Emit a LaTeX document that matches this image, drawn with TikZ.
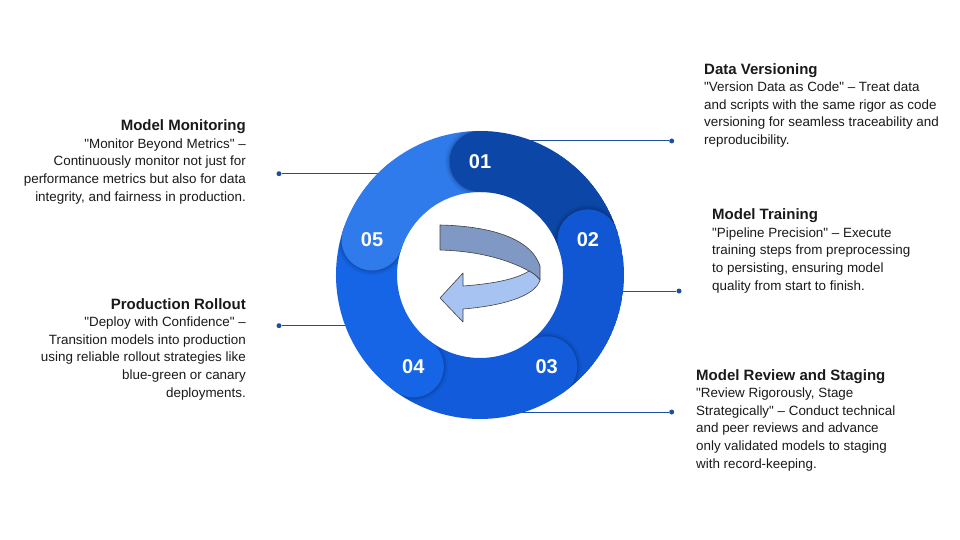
\documentclass[tikz,border=0pt]{standalone}
\usepackage{fontspec}
\setmainfont{Liberation Sans}[Ligatures=TeXOff]
\usetikzlibrary{calc}
\definecolor{segA}{HTML}{0C46A6}
\definecolor{segB}{HTML}{1157D3}
\definecolor{segC}{HTML}{125CDB}
\definecolor{segD}{HTML}{1565E6}
\definecolor{segE}{HTML}{2F7BEB}
\definecolor{linec}{HTML}{1F4FA0}
\definecolor{arrowdark}{HTML}{7F98C4}
\definecolor{arrowlight}{HTML}{A6C3F2}
\definecolor{txt}{HTML}{1A1A1A}
\begin{document}
\begin{tikzpicture}[x=1pt,y=1pt,
  seg/.style={line width=61pt},
  num/.style={text=white, font=\fontsize{20}{24}\selectfont\bfseries, inner sep=0pt},
  dotn/.style={circle, fill=linec, inner sep=0pt, minimum size=5pt},
  conn/.style={draw=linec, line width=1pt},
  lblock/.style={anchor=base west, inner sep=0pt, align=left, text=txt, font=\fontsize{13.4}{17.6}\selectfont},
  rblock/.style={anchor=base east, inner sep=0pt, align=right, text=txt, font=\fontsize{13.4}{17.6}\selectfont},
  arrowline/.style={draw=black!75, line width=0.6pt, line join=round}
]
\newcommand{\ttl}[1]{{\fontsize{15}{17.6}\selectfont\bfseries #1}}
\newcommand{\capshadow}[1]{%
  \fill[black, opacity=0.05] (C) ++(#1:113.5) circle[radius=35];
  \fill[black, opacity=0.07] (C) ++(#1:113.5) circle[radius=33];
  \fill[black, opacity=0.09] (C) ++(#1:113.5) circle[radius=31.5];}
\fill[white] (0,0) rectangle (960,-540);
\useasboundingbox (0,0) rectangle (960,-540);
\coordinate (C) at (480,-275);

% connectors
\node[dotn] (d1) at (671.7,-141) {};
\coordinate (r1) at (530,-141);
\draw[conn] (d1) -- (r1);
\node[dotn] (d2) at (679,-291) {};
\coordinate (r2) at (615,-291);
\draw[conn] (d2) -- (r2);
\node[dotn] (d3) at (671.7,-412) {};
\coordinate (r3) at (515,-412);
\draw[conn] (d3) -- (r3);
\node[dotn] (d4) at (279,-173.7) {};
\coordinate (r4) at (385,-173.7);
\draw[conn] (d4) -- (r4);
\node[dotn] (d5) at (279,-325.7) {};
\coordinate (r5) at (355,-325.7);
\draw[conn] (d5) -- (r5);

% ring
\begin{scope}[even odd rule]
\clip (C) circle[radius=144.2] (C) circle[radius=82.8];
\draw[seg, segE, line cap=round] (C) ++(162:113.5) arc[start angle=162, end angle=90, radius=113.5];
\capshadow{90}
\draw[seg, segA, line cap=round] (C) ++(90:113.5) arc[start angle=90, end angle=18, radius=113.5];
\capshadow{18}
\draw[seg, segB, line cap=round] (C) ++(18:113.5) arc[start angle=18, end angle=-54, radius=113.5];
\capshadow{-54}
\draw[seg, segC, line cap=round] (C) ++(-54:113.5) arc[start angle=-54, end angle=-126, radius=113.5];
\capshadow{-126}
\draw[seg, segD, line cap=round] (C) ++(-126:113.5) arc[start angle=-126, end angle=-198, radius=113.5];
\capshadow{162}
\draw[seg, segE, line cap=round] (C) ++(162:113.5) arc[start angle=162, end angle=130, radius=113.5];
\end{scope}

% numbers
\node[num] (n1) at ($(C)+(90:113.5)$) {01};
\node[num] (n2) at ($(C)+(18:113.5)$) {02};
\node[num] (n3) at ($(C)+(-54:113.5)$) {03};
\node[num] (n4) at ($(C)+(-126:113.5)$) {04};
\node[num] (n5) at ($(C)+(162:113.5)$) {05};

% centre arrow
\fill[arrowdark] (440,-225) .. controls (485,-226) and (530,-236) .. (540,-266)
  -- (540,-280) .. controls (537,-276) and (533,-273) .. (529,-271)
  .. controls (505,-258) and (475,-251) .. (440,-250) -- cycle;
\draw[arrowline] (440,-225) .. controls (485,-226) and (530,-236) .. (540,-266)
  -- (540,-280) .. controls (537,-276) and (533,-273) .. (529,-271)
  .. controls (505,-258) and (475,-251) .. (440,-250) -- cycle;
\fill[arrowlight] (529,-271) .. controls (515,-280) and (490,-284) .. (463,-286)
  -- (463,-273) -- (440,-298) -- (463,-322) -- (463,-309)
  .. controls (500,-306) and (535,-297) .. (540,-280)
  .. controls (537,-276) and (533,-273) .. (529,-271) -- cycle;
\draw[arrowline] (529,-271) .. controls (515,-280) and (490,-284) .. (463,-286)
  -- (463,-273) -- (440,-298) -- (463,-322) -- (463,-309)
  .. controls (500,-306) and (535,-297) .. (540,-280)
  .. controls (537,-276) and (533,-273) .. (529,-271) -- cycle;

% text blocks (anchored at the baseline of their last line)
\node[lblock] (tDV) at (704,-144.5) {\ttl{Data Versioning}\\
"Version Data as Code" – Treat data\\
and scripts with the same rigor as code\\
versioning for seamless traceability and\\
reproducibility.};
\node[lblock] (tMT) at (712,-290) {\ttl{Model Training}\\
"Pipeline Precision" – Execute\\
training steps from preprocessing\\
to persisting, ensuring model\\
quality from start to finish.};
\node[lblock] (tMR) at (696,-468) {\ttl{Model Review and Staging}\\
"Review Rigorously, Stage\\
Strategically" – Conduct technical\\
and peer reviews and advance\\
only validated models to staging\\
with record-keeping.};
\node[rblock] (tMM) at (246,-201) {\ttl{Model Monitoring}\\
"Monitor Beyond Metrics" –\\
Continuously monitor not just for\\
performance metrics but also for data\\
integrity, and fairness in production.};
\node[rblock] (tPR) at (246,-397) {\ttl{Production Rollout}\\
"Deploy with Confidence" –\\
Transition models into production\\
using reliable rollout strategies like\\
blue-green or canary\\
deployments.};
\end{tikzpicture}
\end{document}
